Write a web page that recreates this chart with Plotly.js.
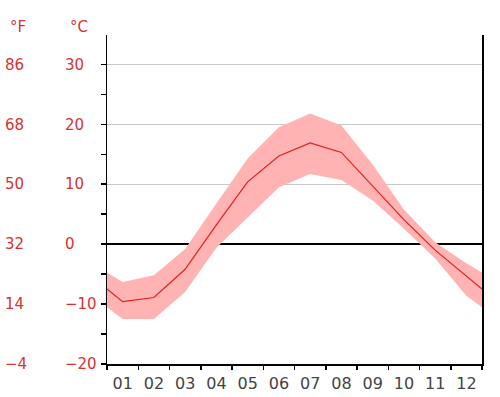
<!DOCTYPE html>
<html>
<head>
<meta charset="utf-8">
<script src="https://cdn.plot.ly/plotly-3.0.1.min.js"></script>
<style>html,body{margin:0;padding:0;background:#fff;}#chart{width:500px;height:397px;}</style>
</head>
<body>
<div id="chart"></div>
<script>
// Months and monthly temperatures (°C)
const months = ["01","02","03","04","05","06","07","08","09","10","11","12"];
const tMean = [-9.6, -8.9, -4.2, 3.2, 10.4, 14.7, 16.9, 15.3, 9.7, 4.1, -1.0, -5.4];
const tMax  = [-6.3, -5.2, -0.8, 6.8, 14.3, 19.5, 21.8, 19.8, 13.3, 5.8, 0.3, -3.2];
const tMin  = [-12.5, -12.5, -8.0, -0.6, 4.5, 9.5, 11.7, 10.7, 7.3, 2.6, -2.4, -8.6];
const cTicks = [-20, -10, 0, 10, 20, 30];
const fTicks = [-4, 14, 32, 50, 68, 86];

// Curves wrap round the year: edges are the Dec/Jan midpoint
function wrap(arr){
  const edge = (arr[0] + arr[arr.length-1]) / 2;
  return [edge].concat(arr, [edge]);
}
const xs = [0].concat(months.map((m,i)=>i+0.5), [months.length]);

const cMin = -20, cMax = 34.9;
const toF = c => c*1.8 + 32;

const red = "#d83232";
const traces = [
  {x: xs, y: wrap(tMin), type:"scatter", mode:"lines", line:{width:0, color:"rgba(0,0,0,0)"}, hoverinfo:"skip", showlegend:false},
  {x: xs, y: wrap(tMax), type:"scatter", mode:"lines", fill:"tonexty", fillcolor:"#ffb3b3", line:{width:0, color:"rgba(0,0,0,0)"}, hoverinfo:"skip", showlegend:false},
  {x: xs, y: wrap(tMean), type:"scatter", mode:"lines", line:{width:1.2, color:"#e3211f"}, showlegend:false},
  {x: [], y: [], yaxis:"y2", type:"scatter", showlegend:false},
  {x: [], y: [], yaxis:"y3", type:"scatter", showlegend:false}
];

const W = 482;
const layout = {
  width: 500, height: 397,
  margin: {l:0, r:18, t:35, b:33, pad:0},
  paper_bgcolor:"#fff", plot_bgcolor:"#fff",
  font: {family:"DejaVu Sans", size:15, color:"#444"},
  xaxis: {
    domain: [107/W, 1], range: [0, months.length], fixedrange:true,
    tickmode:"array", tickvals: months.map((m,i)=>i+0.5), ticktext: months,
    ticks:"", showgrid:false, zeroline:false,
    showline:true, linecolor:"#000", linewidth:1.5,
    tickfont:{family:"DejaVu Sans", size:16, color:"#444"},
    ticklabelstandoff: 4,
    minor: {tickmode:"linear", tick0:0, dtick:1, ticks:"outside", ticklen:4, tickwidth:1.5, tickcolor:"#000", showgrid:false}
  },
  yaxis: {
    range: [cMin, cMax], fixedrange:true,
    tickmode:"array", tickvals: cTicks.filter(v=>v>0),
    ticks:"outside", ticklen:5, tickwidth:1.5, tickcolor:"#000",
    showticklabels:false,
    showgrid:true, gridcolor:"#c8c8c8", gridwidth:1,
    zeroline:true, zerolinecolor:"#000", zerolinewidth:1.5,
    showline:true, linecolor:"#000", linewidth:1.5, mirror:true,
    minor: {tickmode:"linear", tick0:0, dtick:5, ticks:"outside", ticklen:5, tickwidth:1.5, tickcolor:"#000", showgrid:false}
  },
  yaxis2: {
    overlaying:"y", anchor:"free", side:"right", position: 4/W,
    range: [toF(cMin), toF(cMax)], fixedrange:true,
    tickmode:"array", tickvals: fTicks,
    ticks:"", showline:false, showgrid:false, zeroline:false,
    tickfont:{family:"DejaVu Sans", size:15, color:red}
  },
  yaxis3: {
    overlaying:"y", anchor:"free", side:"right", position: 64/W,
    range: [cMin, cMax], fixedrange:true,
    tickmode:"array", tickvals: cTicks,
    ticks:"", showline:false, showgrid:false, zeroline:false,
    tickfont:{family:"DejaVu Sans", size:15, color:red}
  },
  annotations: [
    {text:"°F", xref:"paper", yref:"paper", x:8/W, y:1+(35-27)/329, xanchor:"left", yanchor:"middle", showarrow:false, font:{family:"DejaVu Sans", size:15, color:red}},
    {text:"°C", xref:"paper", yref:"paper", x:68/W, y:1+(35-27)/329, xanchor:"left", yanchor:"middle", showarrow:false, font:{family:"DejaVu Sans", size:15, color:red}}
  ],
  showlegend:false
};

Plotly.newPlot("chart", traces, layout, {displayModeBar:false, staticPlot:true});
</script>
</body>
</html>
